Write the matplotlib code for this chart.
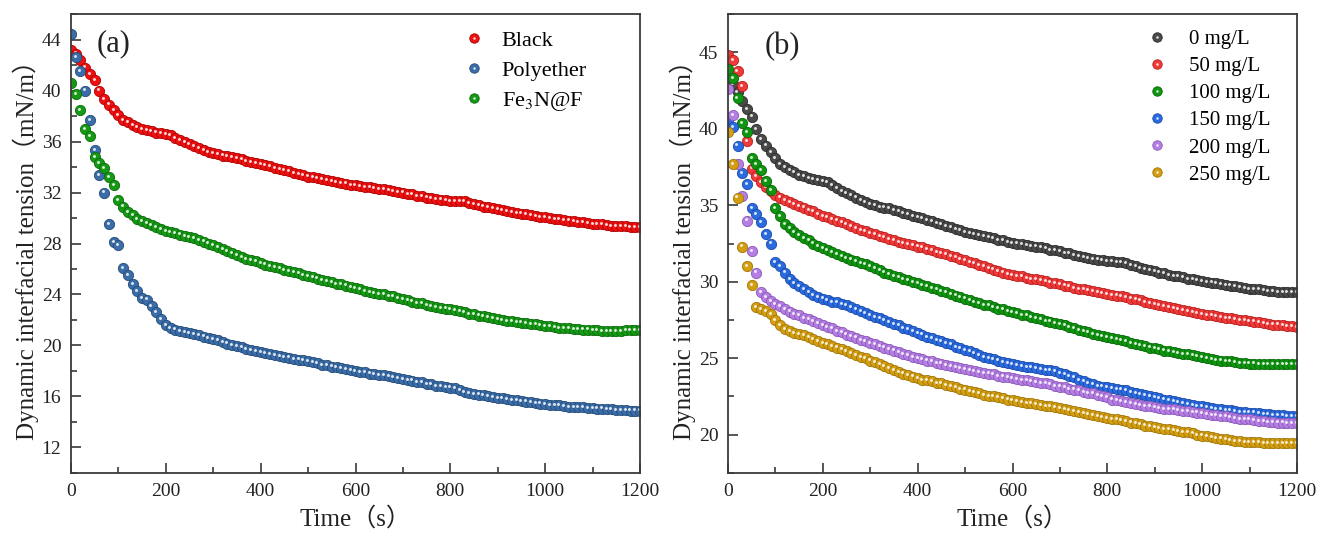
import matplotlib
matplotlib.use("Agg")
import matplotlib.pyplot as plt
from matplotlib.ticker import MultipleLocator
from matplotlib.lines import Line2D
import matplotlib.transforms as mtransforms

plt.rcParams['font.family'] = ['Liberation Serif', 'Noto Sans CJK SC', 'DejaVu Sans']
plt.rcParams['mathtext.fontset'] = 'stix'

# ---------------- data ----------------
time_s = list(range(0, 1201, 10))

# panel (a)
black = [43.2, 42.9, 42.4, 41.8, 41.3, 40.8, 40.0, 39.3, 38.9, 38.5,
         38.1, 37.7, 37.5, 37.3, 37.15, 37.0, 36.9, 36.8, 36.7, 36.65,
         36.6, 36.5, 36.3, 36.1, 35.95, 35.8, 35.65, 35.5, 35.35, 35.2,
         35.1, 35.0, 34.9, 34.85, 34.8, 34.7, 34.6, 34.5, 34.4, 34.3,
         34.25, 34.15, 34.05, 33.95, 33.85, 33.75, 33.65, 33.55, 33.45, 33.35,
         33.25, 33.2, 33.1, 33.05, 33.0, 32.9, 32.85, 32.75, 32.7, 32.6,
         32.55, 32.5, 32.45, 32.4, 32.35, 32.3, 32.25, 32.2, 32.1, 32.05,
         32.0, 31.9, 31.85, 31.75, 31.7, 31.6, 31.55, 31.5, 31.45, 31.4,
         31.35, 31.35, 31.3, 31.3, 31.2, 31.1, 31.0, 30.9, 30.85, 30.75,
         30.7, 30.6, 30.55, 30.45, 30.4, 30.35, 30.3, 30.2, 30.15, 30.1,
         30.05, 30.0, 29.95, 29.9, 29.85, 29.8, 29.75, 29.7, 29.65, 29.6,
         29.55, 29.5, 29.5, 29.45, 29.4, 29.4, 29.35, 29.35, 29.3, 29.3,
         29.3]

polyether = [44.4, 42.6, 41.5, 40.0, 37.7, 35.3, 33.4, 32.0, 29.5, 28.1,
             27.9, 26.1, 25.5, 24.8, 24.3, 23.7, 23.6, 23.1, 22.6, 22.1,
             21.6, 21.4, 21.25, 21.15, 21.05, 20.95, 20.9, 20.8, 20.7, 20.6,
             20.5, 20.4, 20.3, 20.15, 20.05, 19.95, 19.85, 19.75, 19.65, 19.55,
             19.5, 19.4, 19.35, 19.25, 19.2, 19.1, 19.05, 18.95, 18.9, 18.85,
             18.75, 18.7, 18.6, 18.5, 18.45, 18.35, 18.3, 18.2, 18.15, 18.05,
             18.0, 17.95, 17.9, 17.8, 17.75, 17.7, 17.65, 17.6, 17.55, 17.45,
             17.4, 17.3, 17.25, 17.15, 17.1, 17.0, 16.95, 16.85, 16.8, 16.75,
             16.7, 16.65, 16.5, 16.35, 16.3, 16.2, 16.15, 16.1, 16.0, 15.95,
             15.9, 15.85, 15.8, 15.75, 15.7, 15.65, 15.6, 15.55, 15.5, 15.45,
             15.4, 15.35, 15.3, 15.3, 15.25, 15.2, 15.2, 15.15, 15.15, 15.1,
             15.1, 15.05, 15.05, 15.0, 15.0, 14.95, 14.95, 14.95, 14.9, 14.9,
             14.9]

fe3n = [40.6, 39.7, 38.5, 37.0, 36.4, 34.8, 34.3, 33.9, 33.2, 32.6,
        31.4, 30.9, 30.5, 30.2, 29.95, 29.75, 29.6, 29.45, 29.3, 29.15,
        29.0, 28.9, 28.8, 28.7, 28.6, 28.5, 28.4, 28.3, 28.15, 28.0,
        27.85, 27.7, 27.55, 27.4, 27.25, 27.1, 26.95, 26.8, 26.7, 26.6,
        26.45, 26.35, 26.25, 26.15, 26.05, 25.95, 25.85, 25.75, 25.65, 25.55,
        25.45, 25.35, 25.25, 25.15, 25.05, 24.95, 24.85, 24.8, 24.7, 24.6,
        24.5, 24.4, 24.3, 24.2, 24.1, 24.05, 24.0, 23.9, 23.85, 23.75,
        23.65, 23.55, 23.45, 23.35, 23.3, 23.2, 23.1, 23.0, 22.95, 22.9,
        22.85, 22.75, 22.7, 22.6, 22.5, 22.45, 22.35, 22.3, 22.2, 22.15,
        22.1, 22.0, 21.95, 21.9, 21.85, 21.8, 21.75, 21.7, 21.65, 21.6,
        21.55, 21.5, 21.45, 21.4, 21.4, 21.35, 21.3, 21.3, 21.25, 21.25,
        21.2, 21.2, 21.15, 21.15, 21.15, 21.15, 21.15, 21.2, 21.2, 21.2,
        21.2]

# panel (b)
c0 = list(black)

c50 = [44.8, 44.5, 43.8, 42.8, 39.2, 37.4, 36.9, 36.5, 36.2, 35.95,
       35.7, 35.5, 35.35, 35.2, 35.1, 34.95, 34.85, 34.7, 34.6, 34.45,
       34.3, 34.2, 34.1, 34.0, 33.9, 33.8, 33.65, 33.5, 33.4, 33.3,
       33.2, 33.1, 33.0, 32.9, 32.8, 32.7, 32.6, 32.55, 32.45, 32.4,
       32.3, 32.25, 32.15, 32.05, 31.95, 31.9, 31.8, 31.7, 31.6, 31.5,
       31.4, 31.3, 31.2, 31.1, 31.0, 30.9, 30.8, 30.7, 30.6, 30.5,
       30.45, 30.4, 30.35, 30.25, 30.2, 30.15, 30.1, 30.05, 29.95, 29.9,
       29.85, 29.75, 29.7, 29.6, 29.55, 29.5, 29.45, 29.4, 29.3, 29.25,
       29.2, 29.15, 29.1, 29.05, 29.0, 28.9, 28.85, 28.8, 28.7, 28.6,
       28.55, 28.5, 28.4, 28.35, 28.3, 28.2, 28.15, 28.1, 28.0, 27.95,
       27.9, 27.85, 27.8, 27.75, 27.7, 27.65, 27.6, 27.55, 27.5, 27.5,
       27.45, 27.4, 27.35, 27.3, 27.25, 27.2, 27.2, 27.15, 27.1, 27.1,
       27.05]

c100 = [43.9, 43.3, 42.0, 40.4, 39.8, 38.1, 37.7, 37.3, 36.6, 36.0,
        34.8, 34.3, 33.8, 33.5, 33.25, 33.05, 32.85, 32.7, 32.5, 32.35,
        32.2, 32.1, 31.95, 31.8, 31.7, 31.55, 31.45, 31.35, 31.25, 31.15,
        31.0, 30.9, 30.75, 30.6, 30.5, 30.4, 30.3, 30.2, 30.1, 30.0,
        29.9, 29.8, 29.7, 29.6, 29.5, 29.4, 29.3, 29.2, 29.1, 29.0,
        28.9, 28.8, 28.7, 28.6, 28.5, 28.45, 28.35, 28.25, 28.2, 28.1,
        28.0, 27.95, 27.85, 27.8, 27.7, 27.6, 27.55, 27.45, 27.4, 27.3,
        27.25, 27.15, 27.05, 26.95, 26.85, 26.8, 26.7, 26.6, 26.5, 26.45,
        26.4, 26.3, 26.25, 26.2, 26.1, 26.0, 25.95, 25.85, 25.8, 25.7,
        25.65, 25.6, 25.5, 25.45, 25.4, 25.35, 25.3, 25.25, 25.2, 25.15,
        25.05, 25.0, 24.95, 24.9, 24.85, 24.8, 24.8, 24.75, 24.7, 24.7,
        24.65, 24.65, 24.6, 24.6, 24.6, 24.6, 24.6, 24.6, 24.6, 24.6,
        24.6]

c150 = [40.6, 40.1, 38.9, 37.1, 36.4, 34.8, 34.4, 33.9, 33.1, 32.5,
        31.3, 31.0, 30.6, 30.2, 29.9, 29.7, 29.5, 29.3, 29.15, 29.0,
        28.9, 28.8, 28.7, 28.65, 28.55, 28.45, 28.35, 28.2, 28.1, 27.95,
        27.85, 27.7, 27.6, 27.5, 27.35, 27.25, 27.15, 27.0, 26.9, 26.8,
        26.65, 26.55, 26.4, 26.3, 26.2, 26.1, 26.0, 25.9, 25.75, 25.65,
        25.55, 25.45, 25.35, 25.2, 25.1, 25.0, 24.95, 24.85, 24.75, 24.7,
        24.6, 24.55, 24.5, 24.45, 24.4, 24.35, 24.3, 24.25, 24.2, 24.15,
        24.05, 23.95, 23.85, 23.75, 23.6, 23.5, 23.4, 23.3, 23.2, 23.15,
        23.1, 23.05, 23.0, 22.95, 22.9, 22.8, 22.75, 22.65, 22.6, 22.5,
        22.45, 22.4, 22.3, 22.25, 22.2, 22.15, 22.1, 22.0, 21.95, 21.9,
        21.85, 21.8, 21.75, 21.7, 21.65, 21.6, 21.6, 21.55, 21.5, 21.5,
        21.45, 21.45, 21.4, 21.35, 21.35, 21.3, 21.3, 21.3, 21.25, 21.25,
        21.25]

c200 = [42.6, 40.9, 37.7, 35.6, 34.0, 32.0, 30.6, 29.3, 29.0, 28.75,
        28.55, 28.4, 28.2, 28.05, 27.9, 27.8, 27.65, 27.55, 27.45, 27.3,
        27.15, 27.05, 26.95, 26.8, 26.7, 26.55, 26.45, 26.35, 26.2, 26.1,
        26.0, 25.9, 25.8, 25.7, 25.6, 25.5, 25.4, 25.3, 25.2, 25.1,
        25.0, 24.95, 24.85, 24.8, 24.7, 24.65, 24.55, 24.5, 24.4, 24.35,
        24.3, 24.25, 24.15, 24.1, 24.05, 24.0, 23.95, 23.85, 23.8, 23.75,
        23.7, 23.65, 23.6, 23.55, 23.5, 23.45, 23.4, 23.35, 23.3, 23.2,
        23.15, 23.1, 23.0, 22.95, 22.9, 22.8, 22.75, 22.7, 22.6, 22.55,
        22.45, 22.3, 22.25, 22.2, 22.15, 22.1, 22.0, 21.95, 21.9, 21.85,
        21.8, 21.75, 21.7, 21.7, 21.65, 21.6, 21.55, 21.55, 21.5, 21.45,
        21.4, 21.35, 21.3, 21.3, 21.25, 21.2, 21.15, 21.1, 21.05, 21.0,
        21.0, 20.95, 20.9, 20.9, 20.85, 20.85, 20.8, 20.8, 20.75, 20.75,
        20.75]

c250 = [39.8, 37.7, 35.5, 32.3, 31.0, 29.8, 28.35, 28.2, 28.1, 27.9,
        27.5, 27.15, 26.9, 26.75, 26.65, 26.6, 26.5, 26.4, 26.25, 26.1,
        26.0, 25.9, 25.8, 25.7, 25.6, 25.45, 25.35, 25.2, 25.1, 25.0,
        24.85, 24.75, 24.6, 24.5, 24.35, 24.2, 24.1, 24.0, 23.9, 23.8,
        23.7, 23.6, 23.55, 23.5, 23.4, 23.35, 23.25, 23.2, 23.1, 23.0,
        22.95, 22.85, 22.8, 22.7, 22.6, 22.55, 22.5, 22.45, 22.4, 22.3,
        22.25, 22.2, 22.15, 22.1, 22.05, 22.0, 21.95, 21.9, 21.85, 21.8,
        21.75, 21.7, 21.6, 21.55, 21.5, 21.4, 21.35, 21.3, 21.2, 21.15,
        21.1, 21.05, 21.0, 20.95, 20.9, 20.8, 20.75, 20.7, 20.6, 20.55,
        20.5, 20.45, 20.4, 20.35, 20.3, 20.25, 20.2, 20.15, 20.1, 20.0,
        19.95, 19.9, 19.85, 19.8, 19.75, 19.7, 19.65, 19.6, 19.6, 19.55,
        19.55, 19.5, 19.5, 19.45, 19.45, 19.45, 19.45, 19.45, 19.45, 19.45,
        19.45]

labels_a = ['Black', 'Polyether', 'Fe$_3$N@F']
colors_a = ['#ee1111', '#3b6ea8', '#169a16']
edges_a = ['#b00000', '#234a78', '#0b6a0b']

labels_b = ['0 mg/L', '50 mg/L', '100 mg/L', '150 mg/L', '200 mg/L', '250 mg/L']
colors_b = ['#4a4a4a', '#f03a3a', '#109510', '#2a6be0', '#b47ee3', '#d39e12']
edges_b = ['#2a2a2a', '#b81e1e', '#086808', '#1a4aa8', '#8a58b8', '#a07608']

xlabel = 'Time（s）'
ylabel = 'Dynamic interfacial tension（mN/m）'

# ---------------- figure ----------------
fig = plt.figure(figsize=(13.17, 5.37), dpi=100)
ax_a = fig.add_axes([0.0539, 0.1192, 0.4321, 0.8547])
ax_b = fig.add_axes([0.5528, 0.1192, 0.4320, 0.8547])

spine_col = '#3a3a3a'


def draw_series(ax, x, y, color, edge, label):
    ax.plot(x, y, linestyle='none', marker='o', markersize=7.4,
            markerfacecolor=color, markeredgecolor=edge,
            markeredgewidth=0.6, label=label)
    tr = mtransforms.offset_copy(ax.transData, fig=fig, x=-0.8, y=0.8, units='points')
    ax.plot(x, y, linestyle='none', marker='o', markersize=2.1,
            markerfacecolor='white', markeredgecolor='none',
            alpha=0.85, transform=tr)
    leg_main = Line2D([], [], linestyle='none', marker='o', markersize=6.8,
                      markerfacecolor=color, markeredgecolor=edge,
                      markeredgewidth=0.6)
    leg_hl = Line2D([], [], linestyle='none', marker='o', markersize=1.8,
                    markerfacecolor='white', markeredgecolor='none', alpha=0.85)
    return (leg_main, leg_hl)


def style_axes(ax, ylim, major, minor):
    ax.set_xlim(0, 1200)
    ax.set_ylim(*ylim)
    ax.xaxis.set_major_locator(MultipleLocator(200))
    ax.xaxis.set_minor_locator(MultipleLocator(100))
    ax.yaxis.set_major_locator(MultipleLocator(major))
    ax.yaxis.set_minor_locator(MultipleLocator(minor))
    ax.tick_params(which='both', direction='in', top=False, right=False,
                   colors=spine_col, labelcolor='#222222', labelsize=14,
                   width=1.2)
    ax.tick_params(which='major', length=7, pad=7)
    ax.tick_params(which='minor', length=4)
    for s in ax.spines.values():
        s.set_color(spine_col)
        s.set_linewidth(1.3)
    ax.set_xlabel(xlabel, fontsize=18, color='#222222', labelpad=5)
    ax.set_ylabel(ylabel, fontsize=18, color='#222222', labelpad=2)


series_a = [black, polyether, fe3n]
handles_a = []
for ys, c, e, lab in zip(series_a, colors_a, edges_a, labels_a):
    handles_a.append(draw_series(ax_a, time_s, ys, c, e, lab))
style_axes(ax_a, (10, 46), 4, 2)
ax_a.set_yticks([12, 16, 20, 24, 28, 32, 36, 40, 44])
ax_a.text(0.045, 0.935, '(a)', transform=ax_a.transAxes, fontsize=22,
          color='#222222', va='center', ha='left')
ax_a.legend(handles_a, labels_a, loc='upper left', bbox_to_anchor=(0.655, 1.0),
            frameon=False, fontsize=16, handletextpad=0.65, labelspacing=0.4,
            handlelength=1.2, borderaxespad=0.35)

series_b = [c0, c50, c100, c150, c200, c250]
handles_b = []
for ys, c, e, lab in zip(series_b, colors_b, edges_b, labels_b):
    handles_b.append(draw_series(ax_b, time_s, ys, c, e, lab))
style_axes(ax_b, (17.5, 47.5), 5, 2.5)
ax_b.text(0.065, 0.93, '(b)', transform=ax_b.transAxes, fontsize=22,
          color='#222222', va='center', ha='left')
ax_b.legend(handles_b, labels_b, loc='upper left', bbox_to_anchor=(0.705, 1.0),
            frameon=False, fontsize=15, handletextpad=0.9, labelspacing=0.36,
            handlelength=1.2, borderaxespad=0.35)

fig.savefig('out.png', dpi=100)
